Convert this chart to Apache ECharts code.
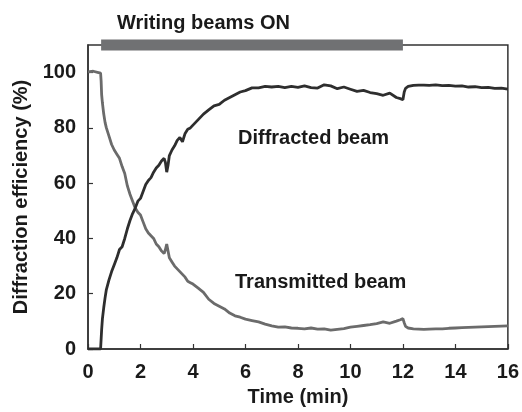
<!DOCTYPE html>
<html>
<head>
<meta charset="utf-8">
<script src="https://cdn.jsdelivr.net/npm/echarts@6/dist/echarts.min.js"></script>
<style>
  html, body { margin: 0; padding: 0; background: #fff; }
  #chart { width: 522px; height: 412px; }
</style>
</head>
<body>
<div id="chart"></div>
<script>
// time axis in minutes, shared by both curves
var timeMin = [0, 0.2, 0.4, 0.48, 0.5, 0.52, 0.55, 0.6, 0.65, 0.7, 0.8, 0.9, 1.0, 1.1, 1.2, 1.3, 1.4, 1.5, 1.6, 1.7, 1.8, 1.9,
  2.0, 2.1, 2.2, 2.3, 2.4, 2.5, 2.6, 2.7, 2.8, 2.9, 2.95, 3.0, 3.05, 3.1, 3.2, 3.3, 3.4, 3.5, 3.6, 3.7, 3.8, 3.9,
  4.0, 4.2, 4.4, 4.6, 4.8, 5.0, 5.2, 5.4, 5.6, 5.8, 6.0, 6.25, 6.5, 6.75, 7.0, 7.25, 7.5, 7.75, 8.0, 8.25, 8.5, 8.75,
  9.0, 9.25, 9.5, 9.75, 10.0, 10.25, 10.5, 10.75, 11.0, 11.25, 11.5, 11.75, 11.9, 12.0, 12.05, 12.1, 12.2, 12.4, 12.6,
  12.8, 13.0, 13.25, 13.5, 13.75, 14.0, 14.25, 14.5, 14.75, 15.0, 15.25, 15.5, 15.75, 16.0];

// diffraction efficiency (%) of the diffracted beam
var diffracted = [0, 0, 0, 0, 0.5, 7, 11, 15, 18.5, 21.5, 25, 28, 30.5, 33, 36, 37, 40, 43.5, 46.5, 49, 51, 53.5,
  54.5, 57, 59.5, 61, 62, 64, 65.5, 66.5, 68, 69, 67.5, 64, 66.5, 70, 72, 73.5, 75.5, 76.5, 75, 78, 79.5, 80,
  81, 83, 85, 86.5, 88, 88.5, 90, 91, 92, 93, 93.5, 94.5, 94.5, 95, 94.8, 95, 94.6, 95, 94.7, 95.2, 94.6, 94.4,
  95.6, 95.2, 94.2, 94.8, 94, 93.2, 93.6, 92.8, 92.4, 91.8, 92.6, 91, 90.6, 90.2, 93, 94.3, 95, 95.4, 95.5,
  95.5, 95.4, 95.6, 95.3, 95.4, 95.1, 95.2, 94.8, 94.9, 94.6, 94.7, 94.3, 94.4, 94];

// transmitted beam (%)
var transmitted = [100.3, 100.5, 100, 99.8, 97, 92, 89, 85, 82, 80, 77, 74, 72, 70.5, 69, 66, 63.5, 59, 56, 53.5, 51, 49.5,
  48.5, 46, 43.5, 42, 41, 40, 38, 37, 35.5, 34.5, 36, 38, 35.5, 33, 31.5, 30, 29, 28, 27, 26, 24.5, 24,
  23.5, 22, 20.5, 18, 16.5, 15.5, 14.5, 13, 12, 11.5, 10.8, 10.3, 9.8, 9, 8.4, 7.9, 8, 7.6, 7.5, 7.3, 7.6, 7.2,
  7.3, 6.8, 7.1, 7.4, 7.9, 8.2, 8.5, 8.8, 9.2, 9.8, 9.3, 10.1, 10.6, 11, 9.5, 8.2, 7.6, 7.3, 7.2,
  7.1, 7.2, 7.3, 7.3, 7.5, 7.6, 7.7, 7.8, 7.9, 8, 8.1, 8.2, 8.3, 8.4];

// period when writing beams are on (min)
var writingOn = [0.5, 12];

var xTicks = { min: 0, max: 16, interval: 2 };
var yTicks = { min: 0, max: 110, interval: 20 };

var font = 'Liberation Sans, Arial, Helvetica, sans-serif';
var ink = '#1a1a1a';

function pairs(xs, ys) {
  var out = [];
  for (var i = 0; i < xs.length; i++) out.push([xs[i], ys[i]]);
  return out;
}

var chart = echarts.init(document.getElementById('chart'), null, { renderer: 'canvas' });

var option = {
  animation: false,
  backgroundColor: '#fff',
  grid: {
    left: 88, right: 12, top: 45, bottom: 60,
    show: true, borderColor: '#333', borderWidth: 1.5, backgroundColor: 'transparent'
  },
  xAxis: {
    type: 'value',
    min: xTicks.min, max: xTicks.max, interval: xTicks.interval,
    name: 'Time (min)',
    nameLocation: 'middle',
    nameGap: 38,
    nameTextStyle: { fontFamily: font, fontWeight: 'bold', fontSize: 20, color: ink },
    axisLine: { show: true, lineStyle: { color: '#333', width: 1.5 } },
    axisTick: { show: true, inside: true, length: 5, lineStyle: { color: '#333', width: 1.2 } },
    axisLabel: { margin: 13, fontFamily: font, fontWeight: 'bold', fontSize: 20, color: ink },
    splitLine: { show: false }
  },
  yAxis: {
    type: 'value',
    min: yTicks.min, max: yTicks.max, interval: yTicks.interval,
    name: 'Diffraction efficiency (%)',
    nameLocation: 'middle',
    nameGap: 54,
    nameTextStyle: { fontFamily: font, fontWeight: 'bold', fontSize: 20, color: ink },
    axisLine: { show: true, lineStyle: { color: '#333', width: 1.5 } },
    axisTick: { show: true, inside: true, length: 5, lineStyle: { color: '#333', width: 1.2 } },
    axisLabel: { margin: 12, showMaxLabel: false, fontFamily: font, fontWeight: 'bold', fontSize: 20, color: ink },
    splitLine: { show: false }
  },
  series: [
    {
      name: 'Transmitted beam',
      type: 'line',
      data: pairs(timeMin, transmitted),
      symbol: 'none',
      lineStyle: { color: '#6b6b6b', width: 2.8 },
      z: 2
    },
    {
      name: 'Diffracted beam',
      type: 'line',
      data: pairs(timeMin, diffracted),
      symbol: 'none',
      lineStyle: { color: '#2e2e2e', width: 2.8 },
      z: 3
    },
    {
      // grey bar on top of the frame
      name: 'Writing beams ON',
      type: 'line',
      data: [[writingOn[0], yTicks.max], [writingOn[1], yTicks.max]],
      symbol: 'none',
      clip: false,
      lineStyle: { color: '#707173', width: 11, cap: 'butt' },
      z: 5
    }
  ],
  graphic: [
    {
      type: 'text', left: 117, top: 13,
      style: { text: 'Writing beams ON', font: 'bold 20px ' + font, fill: ink }
    },
    {
      type: 'text', left: 238, top: 128,
      style: { text: 'Diffracted beam', font: 'bold 20px ' + font, fill: ink }
    },
    {
      type: 'text', left: 235, top: 272,
      style: { text: 'Transmitted beam', font: 'bold 20px ' + font, fill: ink }
    }
  ]
};

chart.setOption(option);
</script>
</body>
</html>
